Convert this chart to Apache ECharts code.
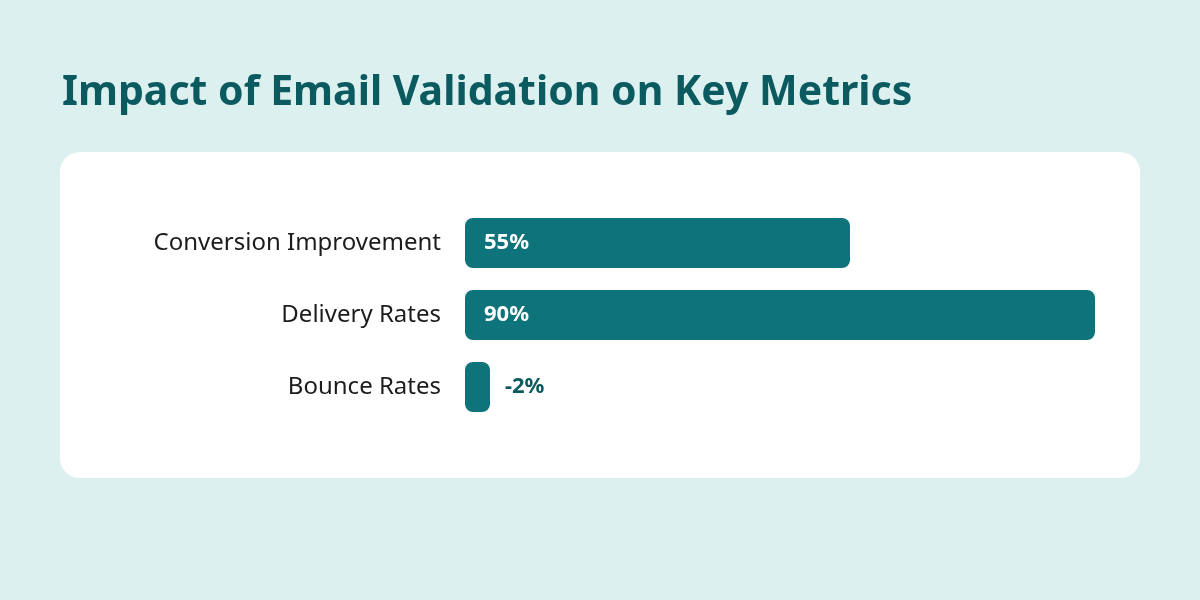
<!DOCTYPE html>
<html>
<head>
<meta charset="utf-8">
<script src="https://cdn.jsdelivr.net/npm/echarts@6/dist/echarts.min.js"></script>
<style>
  html, body { margin: 0; padding: 0; background: #dcf1ef; }
  #chart { width: 1200px; height: 600px; }
</style>
</head>
<body>
<div id="chart"></div>
<script>
// 지표 데이터
const metrics = ['Conversion Improvement', 'Delivery Rates', 'Bounce Rates'];
const values = [55, 90, -2];

const barColor = '#0f737c';
const darkTeal = '#0b5a60';

function initChart() {
    const chart = echarts.init(document.getElementById('chart'));

    const data = values.map(v => {
        const item = { value: Math.abs(v), raw: v };
        if (v < 10) {
            item.label = { position: 'right', offset: [10, 0], color: darkTeal };
        }
        return item;
    });

    const option = {
        backgroundColor: '#dcf1ef',
        textStyle: { fontFamily: 'Noto Sans' },
        title: {
            text: 'Impact of Email Validation on Key Metrics',
            left: 57,
            top: 68,
            textStyle: {
                fontFamily: 'Noto Sans',
                fontSize: 41,
                fontWeight: 'bold',
                color: darkTeal
            }
        },
        graphic: [{
            type: 'rect',
            z: -1,
            shape: { x: 60, y: 152, width: 1080, height: 326, r: 20 },
            style: { fill: '#ffffff' }
        }],
        grid: { left: 465, top: 207, width: 700, height: 216 },
        xAxis: {
            type: 'value',
            min: 0,
            max: 100,
            show: false
        },
        yAxis: {
            type: 'category',
            data: metrics,
            inverse: true,
            axisLine: { show: false },
            axisTick: { show: false },
            axisLabel: {
                margin: 24,
                fontSize: 24,
                color: '#1c1c1c',
                fontFamily: 'Noto Sans'
            }
        },
        series: [{
            type: 'bar',
            data: data,
            barWidth: 50,
            barMinHeight: 25,
            itemStyle: { color: barColor, borderRadius: 8 },
            label: {
                show: true,
                position: 'insideLeft',
                offset: [14, 0],
                color: '#ffffff',
                fontSize: 22,
                fontWeight: 'bold',
                fontFamily: 'Noto Sans',
                formatter: p => p.data.raw + '%'
            }
        }]
    };
    chart.setOption(option);
}

document.addEventListener('DOMContentLoaded', initChart);
</script>
</body>
</html>
